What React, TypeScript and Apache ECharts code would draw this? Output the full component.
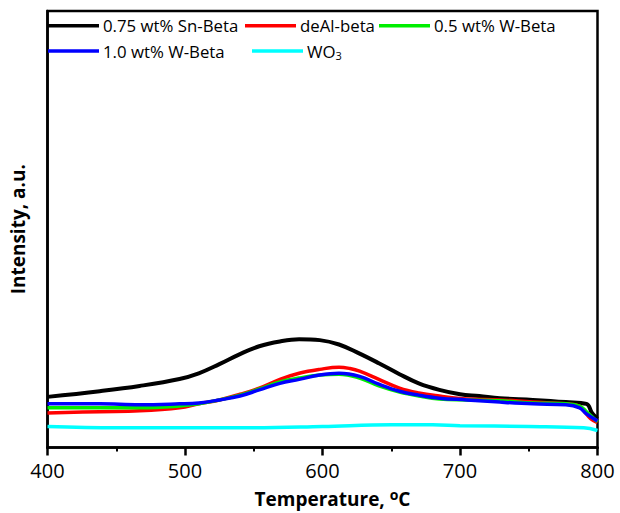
import React, { useEffect, useRef } from "react";
import * as echarts from "echarts";

// ---- data (temperature in °C, intensity in arbitrary units) ----
const snBetaT = [400, 438, 467, 496, 510, 525, 540, 554, 569, 583, 598, 612, 627, 641, 656, 670, 685, 700, 714, 729, 753, 777, 792, 796, 800];
const snBetaI = [11.6, 12.9, 14.1, 15.7, 17.0, 19.1, 21.4, 23.2, 24.3, 24.8, 24.6, 23.6, 21.5, 19.3, 16.8, 14.7, 13.2, 12.2, 11.8, 11.3, 10.9, 10.4, 9.98, 7.9, 6.6];

const deAlT = [400, 438, 467, 496, 510, 525, 540, 554, 569, 583, 598, 612, 620, 627, 641, 656, 670, 685, 705, 729, 753, 777, 787, 790, 795, 800];
const deAlI = [7.9, 8.2, 8.4, 9.1, 10.0, 10.9, 12.2, 13.6, 15.6, 17.0, 17.9, 18.4, 18.1, 17.5, 15.6, 13.6, 12.5, 11.8, 11.1, 10.9, 10.4, 10.0, 9.5, 8.4, 6.6, 5.7];

const w05T = [400, 438, 467, 496, 510, 525, 540, 554, 569, 583, 598, 612, 627, 641, 656, 670, 685, 705, 729, 753, 777, 787, 792, 800];
const w05I = [9.1, 9.1, 9.1, 9.5, 10.0, 10.9, 12.0, 13.4, 15.0, 15.9, 16.6, 16.8, 15.9, 14.1, 12.7, 11.8, 11.1, 10.9, 10.7, 10.2, 10.0, 9.5, 8.2, 5.9];

const w10T = [400, 438, 467, 496, 510, 525, 540, 554, 569, 583, 598, 612, 627, 641, 656, 670, 685, 705, 729, 753, 777, 787, 792, 800];
const w10I = [10.0, 10.0, 9.8, 10.0, 10.2, 10.9, 11.8, 13.2, 14.7, 15.6, 16.6, 17.0, 16.3, 14.5, 12.9, 12.0, 11.3, 10.9, 10.4, 10.0, 9.8, 9.1, 7.7, 6.1];

const wo3T = [400, 450, 500, 550, 600, 650, 680, 700, 750, 790, 800];
const wo3I = [4.8, 4.5, 4.5, 4.5, 4.8, 5.2, 5.2, 5.0, 4.8, 4.5, 3.9];

const seriesNames = ["0.75 wt% Sn-Beta", "deAl-beta", "0.5 wt% W-Beta", "1.0 wt% W-Beta", "WO3"];
const seriesColors = ["#000000", "#ff0000", "#00ee00", "#0000ff", "#00ffff"];
const xTicks = { min: 400, max: 800, interval: 100 };

const zip = (t: number[], v: number[]) => t.map((x, i) => [x, v[i]]);

export default function App() {
  const ref = useRef<HTMLDivElement>(null);
  useEffect(() => {
    if (!ref.current) return;
    const chart = echarts.init(ref.current, null, { renderer: "svg" });
    const font = "'Open Sans', sans-serif";
    const dataSets = [
      zip(snBetaT, snBetaI),
      zip(deAlT, deAlI),
      zip(w05T, w05I),
      zip(w10T, w10I),
      zip(wo3T, wo3I),
    ];
    const legendPos = [
      { left: 48, top: 15.7 },
      { left: 245, top: 15.7 },
      { left: 379, top: 15.7 },
      { left: 48, top: 41 },
      { left: 252, top: 41 },
    ];
    const legends = seriesNames.map((name, i) => ({
      show: true,
      data: [name],
      left: legendPos[i].left,
      top: legendPos[i].top,
      padding: 0,
      icon: "rect",
      itemWidth: 51,
      itemHeight: 3.5,
      itemGap: 0,
      selectedMode: false,
      formatter: (n: string) => (n === "WO3" ? "{a|WO}{b|3}" : n),
      textStyle: {
        fontFamily: font,
        fontSize: 16.8,
        color: "#000",
        lineHeight: 20,
        padding: [0, 0, 0, -1],
        rich: {
          a: { fontFamily: font, fontSize: 16.8, color: "#000", lineHeight: 20 },
          b: { fontFamily: font, fontSize: 11, color: "#000", lineHeight: 20, padding: [8, 0, 0, 0] },
        },
      },
    }));
    chart.setOption({
      animation: false,
      backgroundColor: "#fff",
      grid: {
        left: 47.5,
        right: 22.5,
        top: 11,
        bottom: 61.5,
        show: true,
        borderColor: "#000",
        borderWidth: 2.5,
        containLabel: false,
      },
      legend: legends,
      xAxis: {
        type: "value",
        min: xTicks.min,
        max: xTicks.max,
        interval: xTicks.interval,
        name: "Temperature, {sup|o}C",
        nameLocation: "middle",
        nameGap: 40,
        nameTextStyle: {
          fontFamily: font,
          fontSize: 19,
          fontWeight: "bold",
          color: "#000",
          padding: [0, 0, 0, 20],
          rich: {
            sup: { fontFamily: font, fontSize: 14, fontWeight: "bold", color: "#000", padding: [0, 0, 8, 0] },
          },
        },
        axisLine: { show: true, lineStyle: { color: "#000", width: 2.5 } },
        axisTick: { show: true, inside: false, length: 8, lineStyle: { color: "#000", width: 2.5 } },
        minorTick: { show: true, splitNumber: 2, length: 4, lineStyle: { color: "#000", width: 2 } },
        axisLabel: { fontFamily: font, fontSize: 20, color: "#000", margin: 13 },
        splitLine: { show: false },
      },
      yAxis: {
        type: "value",
        min: 0,
        max: 100,
        name: "Intensity, a.u.",
        nameLocation: "middle",
        nameGap: 20,
        nameTextStyle: { fontFamily: font, fontSize: 19, fontWeight: "bold", color: "#000" },
        axisLine: { show: true, lineStyle: { color: "#000", width: 2.5 } },
        axisTick: { show: false },
        axisLabel: { show: false },
        splitLine: { show: false },
      },
      series: seriesNames.map((name, i) => ({
        name,
        type: "line",
        data: dataSets[i],
        showSymbol: false,
        smooth: 0.4,
        lineStyle: { color: seriesColors[i], width: i === 0 ? 4 : 3.5 },
        itemStyle: { color: seriesColors[i] },
        z: 2 + i,
      })),
    });
    return () => chart.dispose();
  }, []);
  return <div ref={ref} style={{ width: 620, height: 513, position: "absolute", left: 0, top: 0 }} />;
}
